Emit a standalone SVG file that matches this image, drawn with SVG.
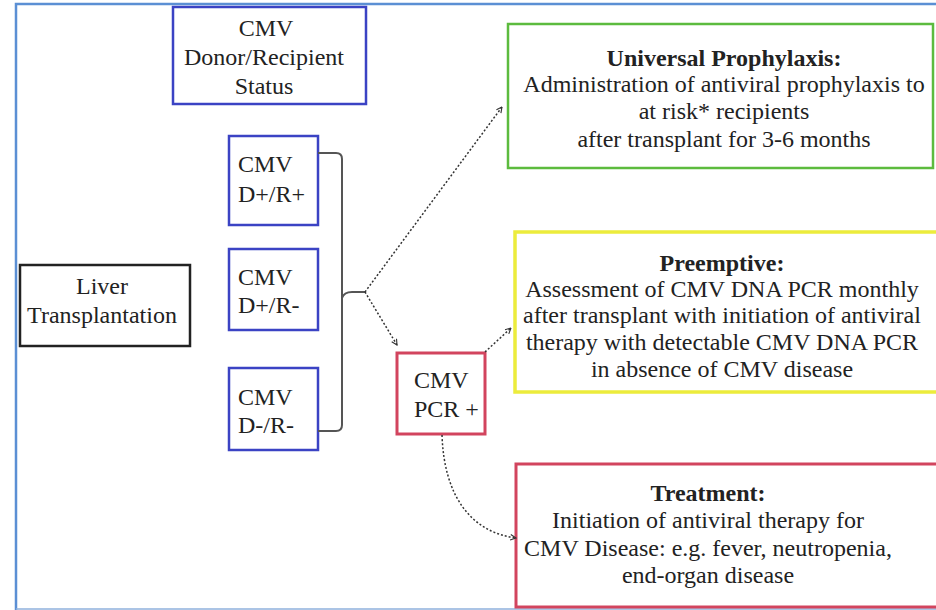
<svg xmlns="http://www.w3.org/2000/svg" width="936" height="610" viewBox="0 0 936 610">
<style>
text{font-size:24px;fill:#222}
.c{text-anchor:middle}
.b{font-weight:bold}
.box{fill:#fff;stroke-width:2.5}
.blue{stroke:#3b43c4}
.green{stroke:#5cbb3e}
.yellow{stroke:#ecec3c;stroke-width:3.5}
.red{stroke:#d2445e;stroke-width:3}
.black{stroke:#222}
.dot{fill:none;stroke:#333;stroke-width:1.5;stroke-dasharray:2 2;marker-end:url(#ah)}
.br{fill:none;stroke:#555;stroke-width:2}
</style>
<defs>
<marker id="ah" viewBox="0 0 10 10" refX="9" refY="5" markerWidth="7" markerHeight="7" orient="auto" markerUnits="userSpaceOnUse">
<path d="M1,1 L9,5 L1,9" fill="none" stroke="#333" stroke-width="1.6"/>
</marker>
</defs>
<rect width="936" height="610" fill="#fff"/>
<g id="frame">
<path d="M16,610 V4 H936" fill="none" stroke="#5b8fd4" stroke-width="2.5"/>
<path d="M16,609 H936" fill="none" stroke="#8fb0dc" stroke-width="1.5"/>
</g>
<g font-family="Liberation Serif, serif">
<g id="status">
<rect class="box blue" x="173" y="7" width="193" height="97"/>
<text class="c" x="266" y="36">CMV</text>
<text class="c" x="264" y="65">Donor/Recipient</text>
<text class="c" x="264" y="94">Status</text>
</g>
<g id="dprp">
<rect class="box blue" x="229" y="136" width="89" height="89"/>
<text x="238" y="172">CMV</text>
<text x="238" y="202">D+/R+</text>
</g>
<g id="dprm">
<rect class="box blue" x="229" y="249" width="89" height="81"/>
<text x="238" y="285">CMV</text>
<text x="238" y="313">D+/R-</text>
</g>
<g id="dmrm">
<rect class="box blue" x="229" y="368" width="89" height="82"/>
<text x="238" y="405">CMV</text>
<text x="238" y="433">D-/R-</text>
</g>
<g id="liver">
<rect class="box black" x="20" y="265" width="170" height="81"/>
<text class="c" x="102" y="294">Liver</text>
<text class="c" x="102" y="323">Transplantation</text>
</g>
<g id="pcr">
<rect class="box red" x="397" y="353" width="88" height="81"/>
<text x="414" y="388">CMV</text>
<text x="414" y="417">PCR +</text>
</g>
<g id="universal">
<rect class="box green" x="508" y="24" width="425" height="144"/>
<text class="c b" x="724" y="66">Universal Prophylaxis:</text>
<text class="c" x="724" y="92">Administration of antiviral prophylaxis to</text>
<text class="c" x="724" y="119">at risk* recipients</text>
<text class="c" x="724" y="147">after transplant for 3-6 months</text>
</g>
<g id="preemptive">
<rect class="box yellow" x="515" y="232" width="430" height="160"/>
<text class="c b" x="722" y="271">Preemptive:</text>
<text class="c" x="722" y="297">Assessment of CMV DNA PCR monthly</text>
<text class="c" x="722" y="323">after transplant with initiation of antiviral</text>
<text class="c" x="722" y="350">therapy with detectable CMV DNA PCR</text>
<text class="c" x="722" y="377">in absence of CMV disease</text>
</g>
<g id="treatment">
<rect class="box red" x="516" y="464" width="430" height="143"/>
<text class="c b" x="708" y="501">Treatment:</text>
<text class="c" x="708" y="528">Initiation of antiviral therapy for</text>
<text class="c" x="708" y="556">CMV Disease: e.g. fever, neutropenia,</text>
<text class="c" x="708" y="583">end-organ disease</text>
</g>
</g>
<g id="connectors">
<path class="br" d="M318,153 H336 Q342,153 342,159 V425 Q342,431 336,431 H318"/>
<path class="br" d="M342,298 Q344,292 352,292 H365"/>
<path class="dot" d="M365,292 L502,107"/>
<path class="dot" d="M365,292 L397,345"/>
<path class="dot" d="M485,352 L511,328"/>
<path class="dot" d="M442,435 C444,495 470,532 516,538"/>
</g>
</svg>
